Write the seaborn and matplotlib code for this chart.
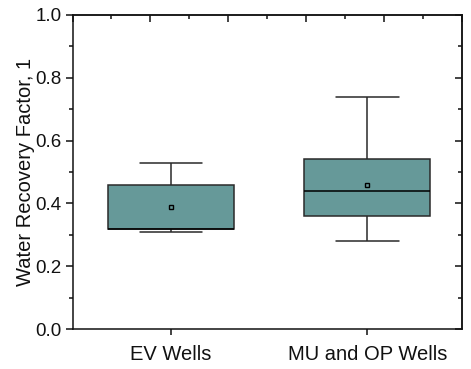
import numpy as np
import pandas as pd
import matplotlib
matplotlib.use("Agg")
import matplotlib.pyplot as plt
import seaborn as sns
from matplotlib.ticker import MultipleLocator, NullFormatter

categories = ["EV Wells", "MU and OP Wells"]
whisker_low = [0.31, 0.28]
q1 = [0.32, 0.36]
median = [0.32, 0.44]
q3 = [0.46, 0.54]
whisker_high = [0.53, 0.74]
means = [0.39, 0.46]

rows = []
for c, lo, a, m, b, hi in zip(categories, whisker_low, q1, median, q3, whisker_high):
    for v in (lo, a, m, b, hi):
        rows.append({"group": c, "value": v})
df = pd.DataFrame(rows)
mean_df = pd.DataFrame({"group": categories, "value": means})

sns.set_theme(style="ticks")
plt.rcParams["font.family"] = ["Liberation Sans", "DejaVu Sans"]

fig = plt.figure(figsize=(4.71, 3.69), dpi=100)
ax = fig.add_axes([72.5 / 471, 1 - 329 / 369, (461.5 - 72.5) / 471, (329 - 15) / 369])

sns.boxplot(data=df, x="group", y="value", order=categories, whis=(0, 100),
            width=0.64, color="#669999", saturation=1, linewidth=1.1,
            linecolor="#2a2a2a", showfliers=False, ax=ax,
            medianprops=dict(color="black", linewidth=1.1))
sns.pointplot(data=mean_df, x="group", y="value", order=categories,
              errorbar=None, linestyle="none", marker="s", markersize=3.2,
              markerfacecolor="none", markeredgecolor="black",
              markeredgewidth=1.0, color="black", ax=ax, zorder=6)

ax.set_xlim(-0.502, 1.48)
ax.set_ylim(0, 1.0)
ax.yaxis.set_major_locator(MultipleLocator(0.2))
ax.yaxis.set_minor_locator(MultipleLocator(0.1))
ax.yaxis.set_major_formatter(matplotlib.ticker.FormatStrFormatter("%.1f"))
ax.set_xlabel("")
ax.set_ylabel("Water Recovery Factor, 1", fontsize=14.5, labelpad=0, color="#111111")

for s in ax.spines.values():
    s.set_visible(True)
    s.set_linewidth(1.1)
    s.set_color("#111111")

ax.tick_params(axis="y", which="major", direction="out", length=5, width=1.1,
               labelsize=13.5, pad=3, colors="#111111")
ax.tick_params(axis="y", which="minor", direction="out", length=3, width=1.1,
               colors="#111111")
ax.tick_params(axis="x", which="major", direction="out", length=4, width=1.1,
               labelsize=14.5, pad=7.5, colors="#111111")

secy = ax.secondary_yaxis("right")
secy.yaxis.set_major_locator(MultipleLocator(0.2))
secy.yaxis.set_minor_locator(MultipleLocator(0.1))
secy.yaxis.set_major_formatter(NullFormatter())
secy.tick_params(which="major", direction="in", length=5, width=1.1, colors="#111111")
secy.tick_params(which="minor", direction="in", length=3, width=1.1, colors="#111111")
secy.spines["right"].set_linewidth(1.1)

x0, x1 = ax.get_xlim()
secx = ax.secondary_xaxis("top", functions=(lambda x: (x - x0) / (x1 - x0) * 5,
                                            lambda t: x0 + t / 5 * (x1 - x0)))
secx.xaxis.set_major_locator(MultipleLocator(1))
secx.xaxis.set_minor_locator(MultipleLocator(0.5))
secx.xaxis.set_major_formatter(NullFormatter())
secx.tick_params(which="major", direction="in", length=5, width=1.1, colors="#111111")
secx.tick_params(which="minor", direction="in", length=3, width=1.1, colors="#111111")
secx.spines["top"].set_linewidth(1.1)

fig.savefig("out.png", dpi=100)
